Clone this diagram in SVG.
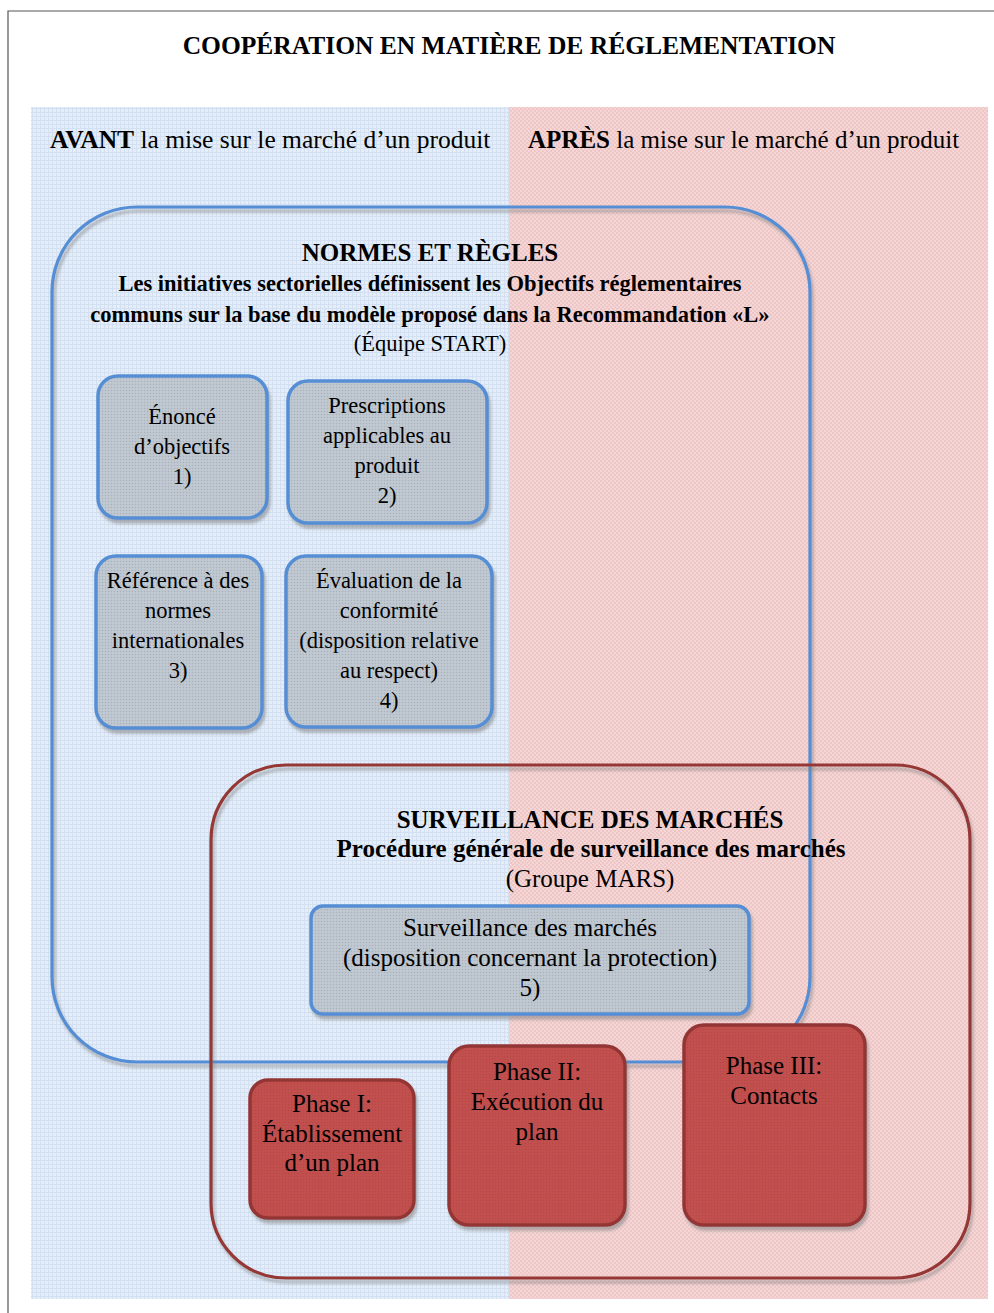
<svg xmlns="http://www.w3.org/2000/svg" width="994" height="1313" viewBox="0 0 994 1313">
<defs>
<filter id="sh" x="-10%" y="-10%" width="130%" height="130%">
<feDropShadow dx="2" dy="4" stdDeviation="1.5" flood-color="#7f7f7f" flood-opacity="0.55"/>
</filter>
<pattern id="pb" width="4" height="4" patternUnits="userSpaceOnUse">
<rect width="4" height="4" fill="#E4EDF8"/>
<rect width="4" height="1" fill="#D3E0F1"/>
<rect width="1" height="4" fill="#D3E0F1"/>
</pattern>
<pattern id="pr" width="4" height="4" patternUnits="userSpaceOnUse">
<rect width="4" height="4" fill="#F4D6D6"/>
<rect x="0" y="0" width="2" height="2" fill="#EEC6C6"/>
<rect x="2" y="2" width="2" height="2" fill="#EEC6C6"/>
</pattern>
<pattern id="pg" width="3" height="3" patternUnits="userSpaceOnUse">
<rect width="3" height="3" fill="#BCC5CE"/>
<rect width="1" height="1" fill="#A9B2BB"/>
<rect x="1.5" y="1.5" width="1" height="1" fill="#CBD3DB"/>
</pattern>
<pattern id="pp" width="3" height="3" patternUnits="userSpaceOnUse">
<rect width="3" height="3" fill="#C0504D"/>
<rect width="1" height="1" fill="#B44744"/>
</pattern>
</defs>
<style>
text{font-family:"Liberation Serif","Times New Roman",serif;fill:#000;text-anchor:middle}
.b{font-weight:bold}
.s{font-size:22.5px}
.m{font-size:25px}
.l{font-size:25.5px}
.gbox{fill:url(#pg);stroke:#558ED5;stroke-width:3.5;filter:url(#sh)}
.pbox{fill:url(#pp);stroke:#943634;stroke-width:3.5;filter:url(#sh)}
.frame{fill:none;stroke-width:3.2;filter:url(#sh)}
</style>
<rect width="994" height="1313" fill="#fff"/>
<path d="M8 1313 V11 H994" fill="none" stroke="#555" stroke-width="1.2"/>
<g id="panels">
<rect x="31" y="107" width="478" height="1192" fill="url(#pb)"/>
<rect x="509" y="107" width="479" height="1192" fill="url(#pr)"/>
</g>
<text x="509" y="54" class="b l">COOPÉRATION EN MATIÈRE DE RÉGLEMENTATION</text>
<text x="50" y="148" class="l" style="text-anchor:start"><tspan class="b">AVANT</tspan> la mise sur le marché d’un produit</text>
<text x="528" y="148" class="m" style="text-anchor:start"><tspan class="b">APRÈS</tspan> la mise sur le marché d’un produit</text>
<g id="normes">
<rect x="52" y="207" width="758" height="855" rx="85" ry="85" class="frame" stroke="#558ED5"/>
<text x="430" y="261" class="b m">NORMES ET RÈGLES</text>
<text x="430" y="291" class="b s">Les initiatives sectorielles définissent les Objectifs réglementaires</text>
<text x="430" y="322" class="b s">communs sur la base du modèle proposé dans la Recommandation «L»</text>
<text x="430" y="351" class="s">(Équipe START)</text>
</g>
<g id="surveillance">
<rect x="211" y="765" width="759" height="513" rx="75" ry="75" class="frame" stroke="#953735"/>
<text x="590" y="828" class="b m">SURVEILLANCE DES MARCHÉS</text>
<text x="591" y="857" class="b m">Procédure générale de surveillance des marchés</text>
<text x="590" y="887" class="m">(Groupe MARS)</text>
</g>
<g id="box1">
<rect x="98" y="376" width="169" height="142" rx="20" class="gbox"/>
<text x="182" y="424" class="s">Énoncé</text>
<text x="182" y="454" class="s">d’objectifs</text>
<text x="182" y="484" class="s">1)</text>
</g>
<g id="box2">
<rect x="288" y="381" width="199" height="142" rx="20" class="gbox"/>
<text x="387" y="413" class="s">Prescriptions</text>
<text x="387" y="443" class="s">applicables au</text>
<text x="387" y="473" class="s">produit</text>
<text x="387" y="503" class="s">2)</text>
</g>
<g id="box3">
<rect x="96" y="556" width="166" height="172" rx="20" class="gbox"/>
<text x="178" y="588" class="s">Référence à des</text>
<text x="178" y="618" class="s">normes</text>
<text x="178" y="648" class="s">internationales</text>
<text x="178" y="678" class="s">3)</text>
</g>
<g id="box4">
<rect x="286" y="556" width="206" height="171" rx="20" class="gbox"/>
<text x="389" y="588" class="s">Évaluation de la</text>
<text x="389" y="618" class="s">conformité</text>
<text x="389" y="648" class="s">(disposition relative</text>
<text x="389" y="678" class="s">au respect)</text>
<text x="389" y="708" class="s">4)</text>
</g>
<g id="box5">
<rect x="311" y="906" width="438" height="108" rx="12" class="gbox"/>
<text x="530" y="936" class="m">Surveillance des marchés</text>
<text x="530" y="966" class="m">(disposition concernant la protection)</text>
<text x="530" y="996" class="m">5)</text>
</g>
<g id="phase1">
<rect x="250" y="1080" width="164" height="138" rx="18" class="pbox"/>
<text x="332" y="1112" class="m">Phase I:</text>
<text x="332" y="1142" class="m">Établissement</text>
<text x="332" y="1171" class="m">d’un plan</text>
</g>
<g id="phase2">
<rect x="449" y="1046" width="176" height="179" rx="20" class="pbox"/>
<text x="537" y="1080" class="m">Phase II:</text>
<text x="537" y="1110" class="m">Exécution du</text>
<text x="537" y="1140" class="m">plan</text>
</g>
<g id="phase3">
<rect x="684" y="1025" width="181" height="200" rx="20" class="pbox"/>
<text x="774" y="1074" class="m">Phase III:</text>
<text x="774" y="1104" class="m">Contacts</text>
</g>
<g id="connectors"/>
</svg>
